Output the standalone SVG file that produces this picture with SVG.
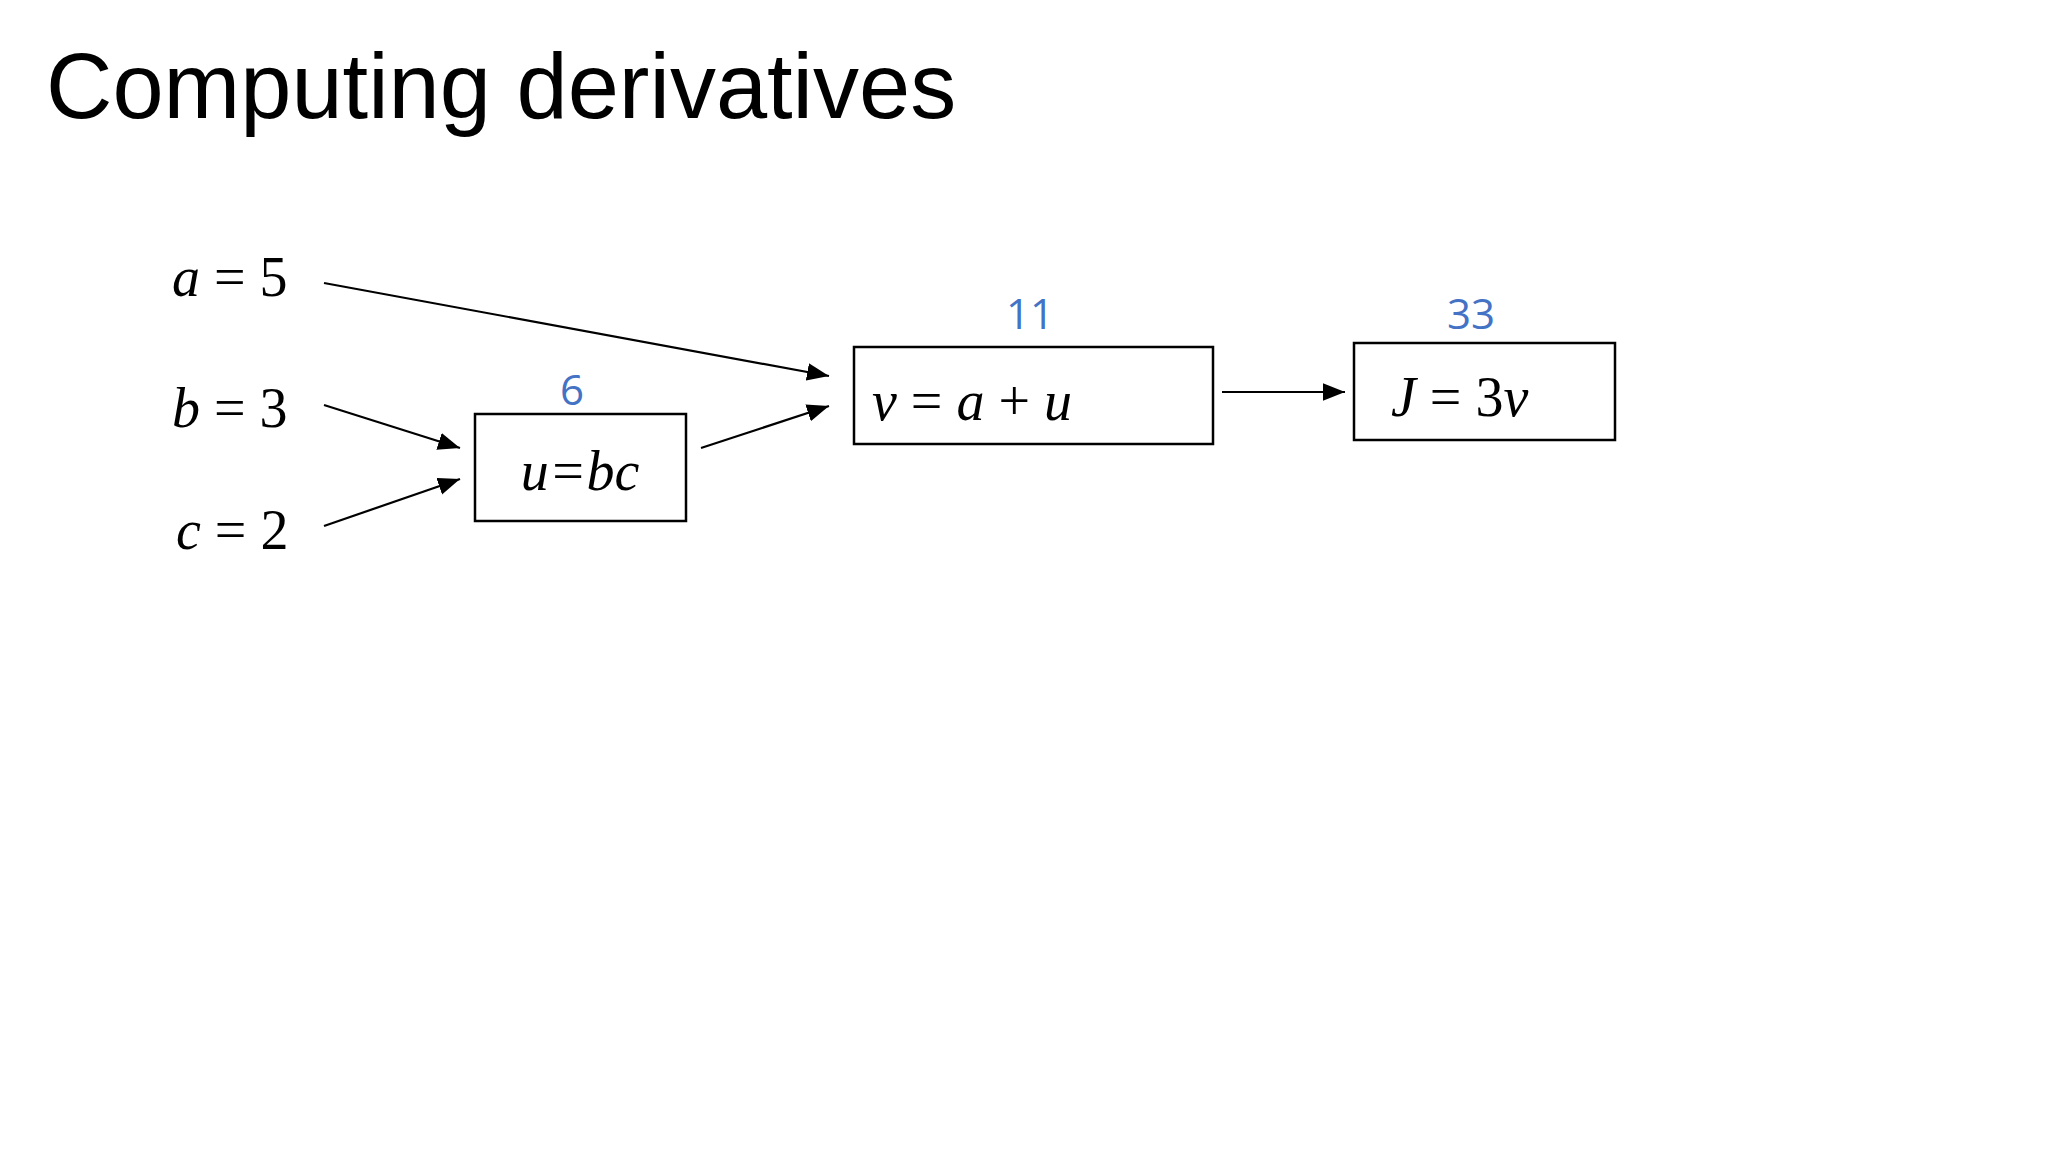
<svg xmlns="http://www.w3.org/2000/svg" width="2048" height="1152" viewBox="0 0 2048 1152">
<style>
.m{font-family:"Liberation Serif",serif;font-size:56px;fill:#000}
.i{font-style:italic}
.n{font-family:"Open Sans","Liberation Sans",sans-serif;font-size:42px;fill:#4472C4;text-anchor:middle}
.box{fill:#fff;stroke:#000;stroke-width:2.5}
.c{stroke:#000;stroke-width:2.2;fill:none;marker-end:url(#ah)}
</style>
<defs><marker id="ah" markerWidth="10" markerHeight="8" refX="10" refY="4" orient="auto" markerUnits="userSpaceOnUse" viewBox="0 0 10 8"><path d="M0,0L10,4L0,8z" fill="#000"/></marker>
<marker id="ah2" viewBox="0 0 10 8" refX="10" refY="4" markerWidth="22" markerHeight="18" orient="auto" markerUnits="userSpaceOnUse"><path d="M0,0L10,4L0,8z" fill="#000"/></marker></defs>
<rect width="2048" height="1152" fill="#fff"/>
<text x="46" y="118" font-family="Liberation Sans,Arial,sans-serif" font-size="92" fill="#000">Computing derivatives</text>
<g id="a"><text class="m" x="172" y="296"><tspan class="i">a</tspan> = 5</text></g>
<g id="b"><text class="m" x="172" y="427"><tspan class="i">b</tspan> = 3</text></g>
<g id="c"><text class="m" x="176" y="549"><tspan class="i">c</tspan> = 2</text></g>
<g id="u"><rect class="box" x="475" y="414" width="211" height="107"/><text class="m i" x="580" y="490" text-anchor="middle">u=bc</text><text class="n" x="572" y="405">6</text></g>
<g id="v"><rect class="box" x="854" y="347" width="359" height="97"/><text class="m" x="872" y="420"><tspan class="i">v</tspan> = <tspan class="i">a</tspan> + <tspan class="i">u</tspan></text><text class="n" x="1030" y="329">11</text></g>
<g id="J"><rect class="box" x="1354" y="343" width="261" height="97"/><text class="m" x="1391" y="416"><tspan class="i">J</tspan> = 3<tspan class="i">v</tspan></text><text class="n" x="1471" y="329">33</text></g>
<g id="connectors" stroke="#000" stroke-width="2.2" fill="none">
<line x1="324" y1="283" x2="829" y2="376" marker-end="url(#ah2)"/>
<line x1="324" y1="405" x2="460" y2="448" marker-end="url(#ah2)"/>
<line x1="324" y1="526" x2="460" y2="479" marker-end="url(#ah2)"/>
<line x1="701" y1="448" x2="829" y2="406" marker-end="url(#ah2)"/>
<line x1="1222" y1="392" x2="1345" y2="392" marker-end="url(#ah2)"/>
</g>
</svg>
